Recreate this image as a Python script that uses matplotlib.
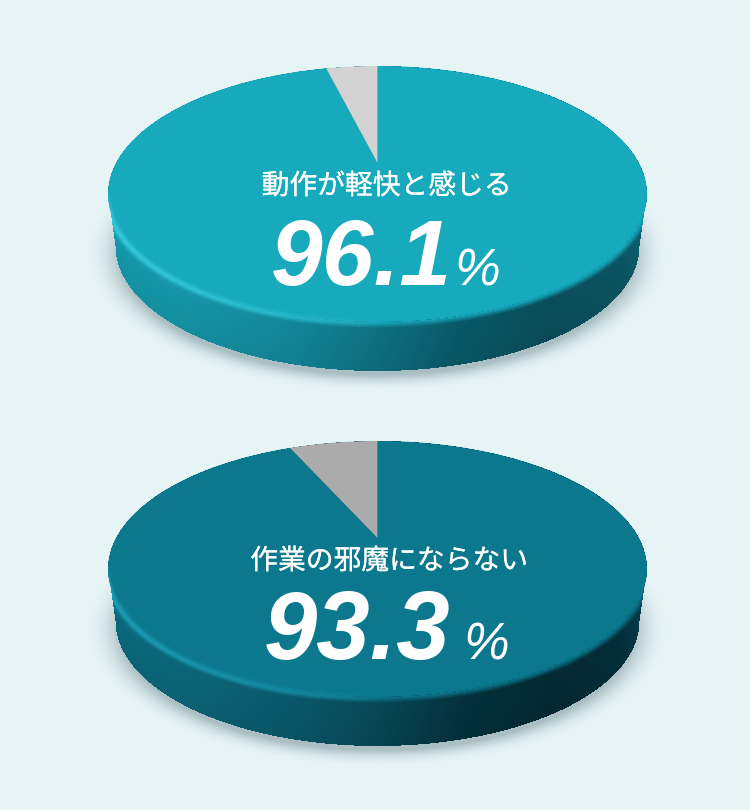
import numpy as np
import matplotlib
matplotlib.use("Agg")
import matplotlib.pyplot as plt
import matplotlib.patheffects as pe
from matplotlib.transforms import Transform
from matplotlib.path import Path

labels = ["動作が軽快と感じる", "作業の邪魔にならない"]
values = [96.1, 93.3]
rest = [3.9, 6.7]
value_text = ["96.1", "93.3"]
face_colors = ["#17a9bc", "#0b788e"]
rest_colors = ["#d3d3d3", "#ababab"]
BG = "#e6f4f6"


class Persp(Transform):
    """Maps the unit-circle pie on to the tilted disc, with perspective."""
    input_dims = output_dims = 2

    def __init__(self, cx, cy, A=261.5, B=120.5, k=0.242):
        super().__init__()
        self.p = (cx, cy, A, B, k)

    def transform_non_affine(self, xy):
        cx, cy, A, B, k = self.p
        xy = np.asarray(xy, float)
        w = 1 + k * xy[:, 1]
        return np.column_stack([cx + A * xy[:, 0] / w, cy - B * xy[:, 1] / w])

    def transform_path_non_affine(self, path):
        return Path(self.transform_non_affine(path.vertices), path.codes)


fig = plt.figure(figsize=(7.5, 8.1), dpi=100, facecolor=BG)
ax = fig.add_axes([0, 0, 1, 1])
W, H = 750, 810
yy, xx = np.mgrid[0:H, 0:W] + 0.5


def lerp_stops(t, stops):
    t = np.clip(t, 0, 1)
    xs = [s[0] for s in stops]
    return np.stack([np.interp(t, xs, [s[1][i] for s in stops]) for i in range(3)], -1)


def hexrgb(h):
    return tuple(int(h[i:i + 2], 16) / 255 for i in (1, 3, 5))


side_stops = [
    [(0, hexrgb("#149cae")), (.15, hexrgb("#1697a9")), (.35, hexrgb("#12879a")), (.5, hexrgb("#0f7182")),
     (.65, hexrgb("#0a5a69")), (.82, hexrgb("#0a4e5b")), (.95, hexrgb("#0b5563")), (1, hexrgb("#0d6676"))],
    [(0, hexrgb("#0b6b7f")), (.15, hexrgb("#0b6679")), (.35, hexrgb("#0a586a")), (.5, hexrgb("#084857")),
     (.65, hexrgb("#05333e")), (.82, hexrgb("#042a33")), (.95, hexrgb("#052f3a")), (1, hexrgb("#074150"))],
]
rim_colors = [hexrgb("#3ccfe0"), hexrgb("#1fa3bb")]
centers_y = [163, 538]
cx = 377.5
label_x = [386.5, 389]
label_y = [186, 561]
big_x = [271, 264]
big_size = [67, 69]
pct_x = [454, 463]
base_y = [285, 659]
pct_size = 37

canvas_extent = (0, W, H, 0)
for i in range(2):
    cy = centers_y[i]
    ey = cy + 31           # true centre of the top ellipse
    face = np.array(hexrgb(face_colors[i]))
    rim = np.array(rim_colors[i])

    # soft shadow under the disc
    r = np.hypot((xx - cx) / 273, (yy - (ey + 60)) / 129)
    a = 0.36 * np.clip((1.07 - r) / 0.13, 0, 1) ** 2
    rgba = np.zeros((H, W, 4))
    rgba[..., :3] = (0.25, 0.38, 0.42)
    rgba[..., 3] = a
    ax.imshow(rgba, extent=canvas_extent, zorder=1, interpolation="bilinear")

    # cylinder wall
    side = lerp_stops((xx - 108) / 539, side_stops[i])
    top_r = np.sqrt(np.clip(1 - ((xx - cx) / 269.5) ** 2, 0, 1))
    y_rim = ey + 128 * top_r
    y_bot = ey + 52 + 125 * np.sqrt(np.clip(1 - ((xx - cx) / 262) ** 2, 0, 1))
    t = (yy - y_rim) / np.maximum(y_bot - y_rim, 1)
    side = side * (1 - 0.06 * np.clip(t, 0, 1)[..., None])
    rr = np.hypot((xx - cx) / 269.5, (yy - ey) / 128)
    inside = (rr <= 1) | \
             (np.hypot((xx - cx) / 262, (yy - ey - 52) / 125) <= 1) | \
             ((yy > ey) & (yy < ey + 52) & (np.abs(xx - cx) <= 269.5 - 7.5 * (yy - ey) / 52))
    ax.imshow(np.dstack([side, inside.astype(float)]), extent=canvas_extent, zorder=2,
              interpolation="bilinear")

    # the pie itself
    wedges, _ = ax.pie([values[i], rest[i]], colors=[face_colors[i], rest_colors[i]],
                       startangle=90, counterclock=False, radius=1, center=(0, 0),
                       wedgeprops=dict(linewidth=0))
    tr = Persp(cx, cy) + ax.transData
    for w in wedges:
        w.set_transform(tr)
        w.set_zorder(3)
        w.set_clip_on(False)

    # rounded rim: soft edge of the face and highlight on the lit side
    grad = np.hypot((xx - cx) / 269.5 ** 2, (yy - ey) / 128 ** 2) / np.maximum(rr, 1e-6)
    d = (rr - 1) / np.maximum(grad, 1e-6)      # signed distance in pixels
    lower = np.clip((yy - (ey - 4)) / 14, 0, 1)
    a1 = np.where(d > 0, np.clip(1 - d / 6, 0, 1), 0) * lower
    lit = np.clip(1 - (xx - 110) / 270, 0, 1) ** 0.6
    a2 = 0.85 * lit * np.exp(-((d - 1.5) / 3.2) ** 2) * lower
    a = (a1 + a2 - a1 * a2) * inside
    col = (face * (a1 * (1 - a2))[..., None] + rim * a2[..., None]) / np.maximum(a1 + a2 - a1 * a2, 1e-6)[..., None]
    ax.imshow(np.dstack([np.clip(col, 0, 1), a]), extent=canvas_extent, zorder=4, interpolation="bilinear")

    # text
    ax.text(label_x[i], label_y[i], labels[i], color="white", fontsize=20,
            family=["Noto Sans CJK JP", "DejaVu Sans"], ha="center", va="center", zorder=5,
            path_effects=[pe.withStroke(linewidth=0.15, foreground="white")])
    ax.text(big_x[i], base_y[i], value_text[i], color="white", fontsize=big_size[i],
            fontweight="bold", style="italic", family="Liberation Sans",
            ha="left", va="baseline", zorder=5)
    ax.text(pct_x[i], base_y[i], "%", color="white", fontsize=pct_size, style="italic",
            family="Liberation Sans", ha="left", va="baseline", zorder=5)

ax.set_aspect("auto")
ax.set_xlim(0, W)
ax.set_ylim(H, 0)
ax.axis("off")
fig.savefig("out.png", dpi=100, facecolor=BG)
